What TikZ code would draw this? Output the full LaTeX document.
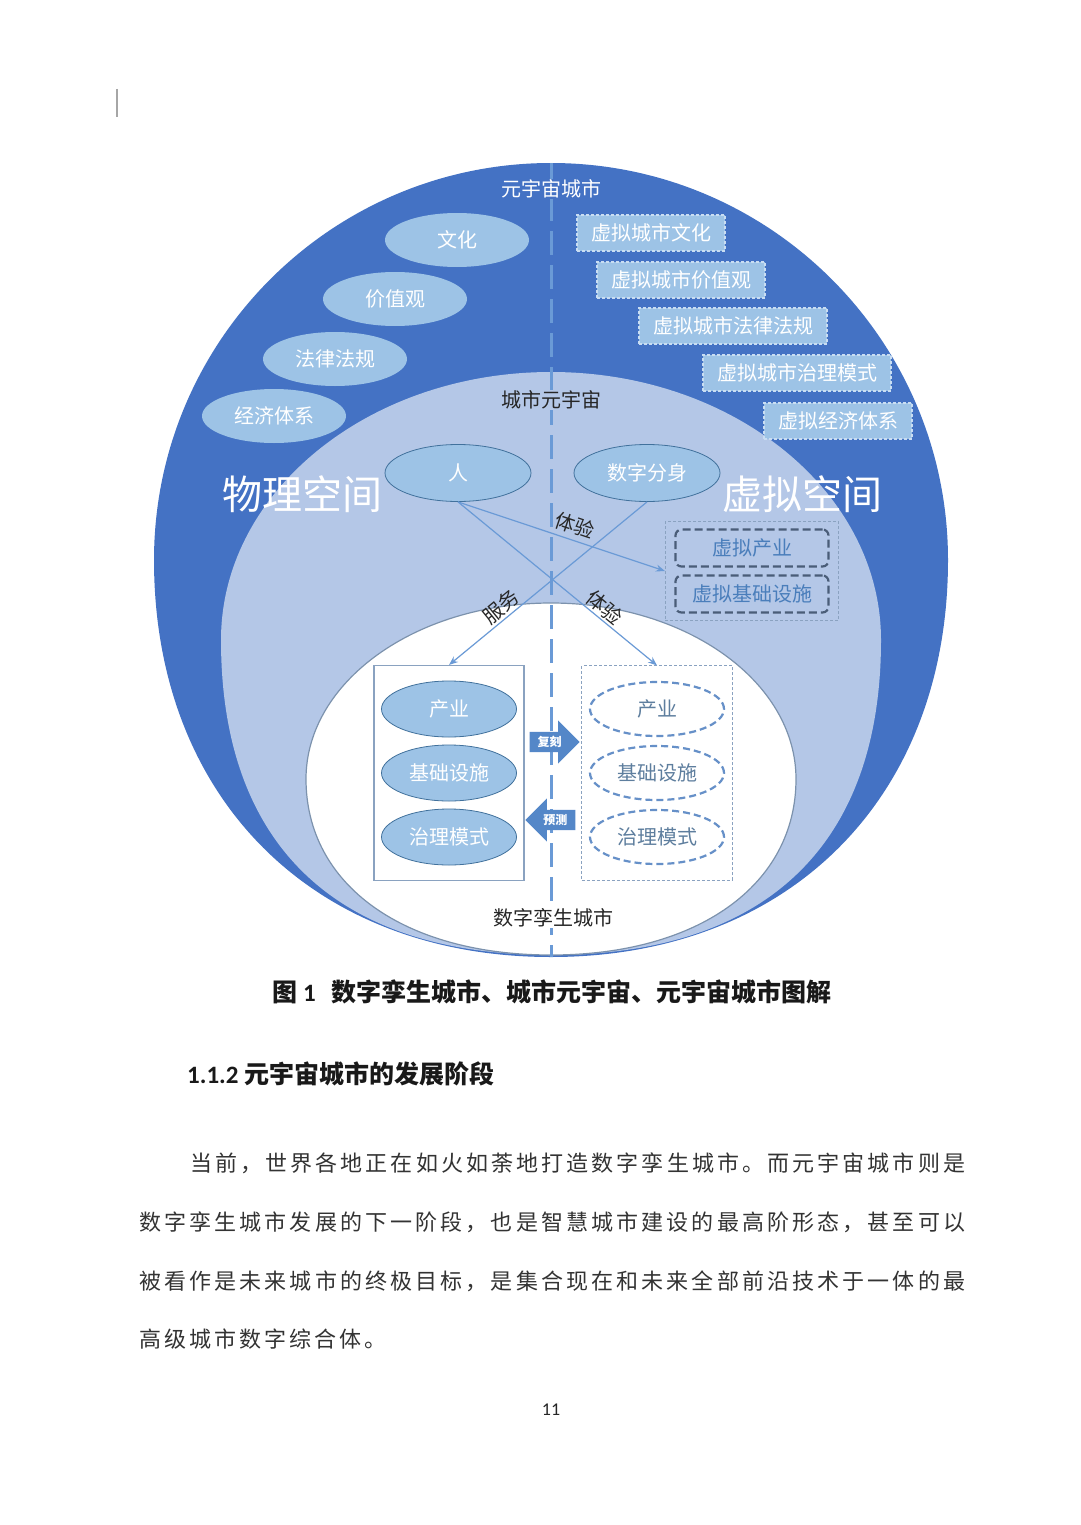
\documentclass[tikz,border=0pt]{standalone}
\usepackage{fontspec}
\setmainfont{Noto Sans CJK SC}
\newfontfamily\latinfont{Carlito}
\usepackage{tikz}
\usetikzlibrary{arrows.meta, positioning, shapes.geometric, shapes.arrows, fit}
\usepackage{xcolor}
\definecolor{metablue}{HTML}{4472C4}
\definecolor{cityblue}{HTML}{B4C7E7}
\definecolor{pillblue}{HTML}{9DC3E6}
\definecolor{pilledge}{HTML}{41719C}
\definecolor{vedge}{HTML}{C9DDF2}
\definecolor{linkblue}{HTML}{6A9AD6}
\definecolor{slate}{HTML}{4A5D78}
\definecolor{vtext}{HTML}{4A7EBB}
\definecolor{twinedge}{HTML}{6690C8}
\definecolor{twintext}{HTML}{5E7E9E}
\definecolor{boxedge}{HTML}{8AA2C0}
\definecolor{arrowblue}{HTML}{5487C8}
\makeatletter
\newcommand\spreadtext[2]{\makebox[#1][s]{\@tfor\spreadch:=#2\do{\spreadch\hskip 0pt plus 1fil}\unskip}}
\makeatother

\begin{document}
\begin{tikzpicture}[x=1pt, y=1pt,
  lvl/.style={inner sep=1pt, font=\fontsize{20}{24}\selectfont},
  pill/.style={ellipse, fill=pillblue, minimum width=144pt,
               minimum height=54pt, inner sep=0pt, text=white,
               font=\fontsize{20}{24}\selectfont},
  vbox/.style={rectangle, fill=pillblue, draw=vedge, line width=1.4pt,
               dash pattern=on 3pt off 2pt, minimum height=36pt,
               inner xsep=14pt, inner ysep=0pt, text=white,
               font=\fontsize{20}{24}\selectfont},
  space/.style={text=white, inner sep=0pt, font=\fontsize{40}{44}\selectfont},
  actor/.style={ellipse, fill=pillblue, draw=pilledge, line width=.8pt,
                minimum width=146pt, minimum height=57pt, inner sep=0pt,
                text=white, font=\fontsize{20}{24}\selectfont},
  vdash/.style={rectangle, rounded corners=6pt, draw=slate, line width=2.2pt,
                dash pattern=on 8pt off 4pt, minimum width=153pt,
                minimum height=37pt, inner sep=0pt, text=vtext,
                font=\fontsize{20}{24}\selectfont},
  grp/.style={rectangle, draw=boxedge, line width=1pt,
              dash pattern=on 3pt off 2pt},
  realell/.style={ellipse, fill=pillblue, draw=pilledge, line width=.8pt,
                  minimum width=135pt, minimum height=56pt, inner sep=0pt,
                  text=white, font=\fontsize{20}{24}\selectfont},
  twinell/.style={ellipse, fill=white, draw=twinedge, line width=2.2pt,
                  dash pattern=on 7pt off 4pt, minimum width=134pt,
                  minimum height=54pt, inner sep=0pt, text=twintext,
                  font=\fontsize{20}{24}\selectfont},
  realbox/.style={rectangle, draw=boxedge, line width=1.3pt},
  twinbox/.style={rectangle, draw=boxedge, line width=1pt,
                  dash pattern=on 3pt off 2pt},
  blockarr/.style={single arrow, fill=arrowblue, minimum height=50pt,
                   minimum width=43pt, single arrow head extend=11.5pt,
                   inner xsep=3pt, inner ysep=4pt, text height=10pt,
                   text depth=2pt, text=white,
                   font=\fontsize{12}{14}\selectfont\bfseries},
  link/.style={-{Stealth[length=9pt, width=7pt]}, draw=linkblue,
               line width=1.2pt},
  tag/.style={inner sep=2pt, text=black!85, font=\fontsize{20}{24}\selectfont},
  axis/.style={draw=linkblue, line width=3pt, dash pattern=on 24pt off 10pt},
  body/.style={anchor=west, inner sep=0pt, text=black!80,
               font=\fontsize{22}{26}\selectfont}
]
\useasboundingbox (0,0) rectangle (1080,-1525);
\fill[white] (0,0) rectangle (1080,-1525);
\draw[gray!70, line width=1.2pt] (117,-89) -- (117,-117);
% three nested spaces
\fill[metablue] (154,-560) arc[start angle=180, end angle=0, radius=397]
  .. controls (948,-798) and (789,-957) .. (551,-957)
  .. controls (313,-957) and (154,-798) .. (154,-560) -- cycle;
\fill[cityblue] (221,-640)
  arc[start angle=180, end angle=0, x radius=330, y radius=268]
  .. controls (881,-845) and (766,-955) .. (551,-955)
  .. controls (336,-955) and (221,-845) .. (221,-640) -- cycle;
\filldraw[fill=white, draw=boxedge!90!black, line width=1.2pt] (306,-779)
  arc[start angle=180, end angle=0, x radius=245, y radius=176]
  .. controls (796,-885) and (698,-955) .. (551,-955)
  .. controls (404,-955) and (306,-885) .. (306,-779) -- cycle;
% real / virtual divider
\coordinate (axtop) at (551,-163);
\coordinate (axbot) at (551,-957);
\draw[axis] (axtop) -- (axbot);
% level titles
\node[lvl, fill=metablue, text=white] (metacity) at (551,-189) {元宇宙城市};
\node[lvl, fill=cityblue, text=black!85] (citymeta) at (551,-400) {城市元宇宙};
\node[lvl, fill=white, text=black!85] (twincity) at (553,-918) {数字孪生城市};
% physical side
\node[pill] (culture) at (457,-240) {文化};
\node[pill] (values)  at (395,-299) {价值观};
\node[pill] (laws)    at (335,-359) {法律法规};
\node[pill] (economy) at (274,-416) {经济体系};
% virtual side
\node[vbox] (vculture) at (651,-233) {虚拟城市文化};
\node[vbox] (vvalues)  at (681,-280) {虚拟城市价值观};
\node[vbox] (vlaws)    at (733,-326) {虚拟城市法律法规};
\node[vbox] (vgov)     at (797,-373) {虚拟城市治理模式};
\node[vbox] (veconomy) at (838,-421) {虚拟经济体系};
\node[space] (physical) at (302,-494) {物理空间};
\node[space] (virtual)  at (802,-494) {虚拟空间};
% people
\node[actor] (ren)  at (458,-473) {人};
\node[actor] (shen) at (647,-473) {数字分身};
% virtual industry
\node[vdash] (vind)   at (752,-548) {虚拟产业};
\node[vdash] (vinfra) at (752,-594) {虚拟基础设施};
\node[grp, fit=(vind)(vinfra), inner xsep=9pt, inner ysep=7pt] (vgroup) {};
% real city and its twin
\node[realell] (rind)   at (449,-709) {产业};
\node[realell] (rinfra) at (449,-773) {基础设施};
\node[realell] (rgov)   at (449,-837) {治理模式};
\node[realbox, fit=(rind)(rinfra)(rgov), inner xsep=7pt, inner ysep=15pt]
  (lbox) {};
\node[twinell] (tind)   at (657,-709) {产业};
\node[twinell] (tinfra) at (657,-773) {基础设施};
\node[twinell] (tgov)   at (657,-837) {治理模式};
\node[twinbox, fit=(tind)(tinfra)(tgov), inner xsep=7pt, inner ysep=15pt]
  (rbox) {};
% copy and forecast
\node[blockarr, anchor=tip] (copyarr) at (580,-742) {复刻};
\node[blockarr, shape border rotate=180, anchor=tip] (predarr) at (525,-820)
  {预测};
% links
\draw[link] (ren.south) -- (vgroup.west)
  node[tag, pos=0.54, sloped, above=3pt] {体验};
\draw[link] (ren.south) -- (rbox.north)
  node[tag, pos=0.70, sloped, above] {体验};
\draw[link] (shen.south) -- (lbox.north)
  node[tag, pos=0.70, sloped, above] {服务};
% page text
\node[anchor=west, inner sep=0pt, text=black!90,
      font=\fontsize{25}{28}\selectfont\bfseries] (figcap) at (272,-992)
  {图\hspace{6pt}{\latinfont 1}\hspace{16pt}数字孪生城市、城市元宇宙、元宇宙城市图解};
\node[anchor=west, inner sep=0pt, text=black!90,
      font=\fontsize{25}{28}\selectfont\bfseries] (sechead) at (187,-1074)
  {{\latinfont 1.1.2} 元宇宙城市的发展阶段};
\node[body] (line1) at (190,-1163)
  {\spreadtext{775pt}{当前，世界各地正在如火如荼地打造数字孪生城市。而元宇宙城市则是}};
\node[body] (line2) at (139,-1222)
  {\spreadtext{826pt}{数字孪生城市发展的下一阶段，也是智慧城市建设的最高阶形态，甚至可以}};
\node[body] (line3) at (139,-1281)
  {\spreadtext{826pt}{被看作是未来城市的终极目标，是集合现在和未来全部前沿技术于一体的最}};
\node[body] (line4) at (139,-1339)
  {\spreadtext{247pt}{高级城市数字综合体。}};
\node[inner sep=0pt, text=black!85, font=\fontsize{18}{20}\selectfont]
  (pagenum) at (551,-1410) {{\latinfont 11}};
\end{tikzpicture}
\end{document}
